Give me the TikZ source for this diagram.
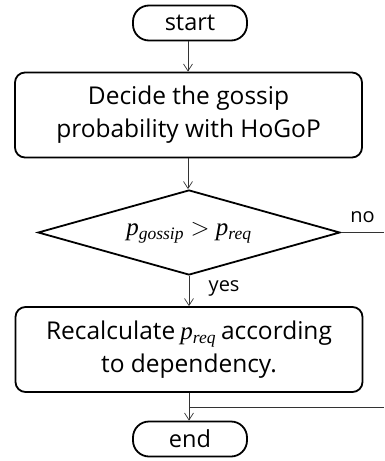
\documentclass[tikz,border=0pt]{standalone}
\usepackage{fontspec}
\setmainfont{Open Sans}
\newfontfamily\tnr{Liberation Serif}
\usetikzlibrary{shapes.geometric,arrows.meta}
\newcommand{\pvar}[1]{{\tnr\itshape p\textsubscript{#1}}}
\begin{document}
\begin{tikzpicture}[x=1pt,y=1pt,
  term/.style={draw, line width=1.8pt, rounded corners=16pt, minimum width=114pt, minimum height=35pt, inner sep=0pt, font=\fontsize{23.5}{28}\selectfont},
  proc/.style={draw, line width=1.8pt, rounded corners=10pt, minimum width=347pt, minimum height=85pt, inner sep=0pt, align=center, font=\fontsize{24.5}{33}\selectfont},
  dec/.style={draw, line width=1.8pt, diamond, aspect=3.55, minimum width=302pt, minimum height=85pt, inner sep=0pt, font=\fontsize{25}{30}\selectfont},
  conn/.style={draw=black!80, line width=0.7pt},
  arr/.style={conn, -{Straight Barb[length=7pt, width=9pt]}},
  lab/.style={font=\fontsize{20}{24}\selectfont}]
\useasboundingbox (0,0) rectangle (384,-461);
\node[term] (start) at (190,-23) {start};
\node[proc] (b1) at (188.5,-115) {Decide the gossip\\probability with HoGoP};
\node[dec] (d) at (189,-232.5) {\pvar{gossip} $>$ \pvar{req}};
\node[proc] (b2) at (189,-349.5) {Recalculate\hspace{5pt}{\fontsize{25}{30}\selectfont\pvar{req}}\hspace{5pt}according\\to dependency.};
\node[term] (end) at (190,-439) {end};
\coordinate (noend) at (384,-232.5);
\coordinate (retstart) at (384,-407);
\coordinate (join) at (189,-407);
\draw[arr] (start.south -| 188,0) -- (b1.north -| 188,0);
\draw[arr] (b1.south -| 188,0) -- (d.north -| 188,0);
\draw[arr] (d.south) -- node[lab, right, xshift=16pt, yshift=3pt] {yes} (b2.north -| d.south);
\draw[conn] (d.east) -- node[lab, above, pos=0.5, yshift=6pt] {no} (noend);
\draw[conn] (retstart) -- (join);
\draw[arr] (b2.south -| join) -- (end.north -| join);
\end{tikzpicture}
\end{document}
